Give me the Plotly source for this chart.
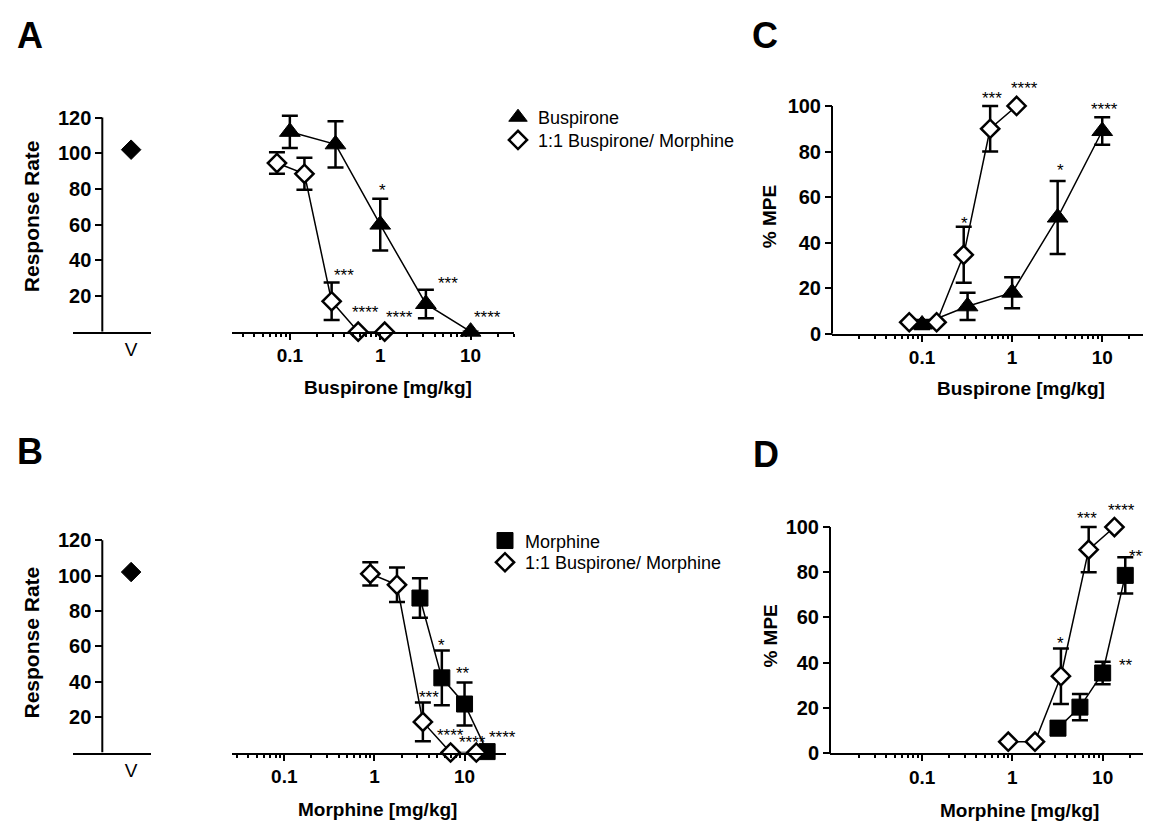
import math
import plotly.graph_objects as go

W, H = 1151, 830
FONT = "Liberation Sans"

# ---------------- data ----------------
vehicle_label = ["V"]
rate_vehicle_A = [102]
rate_vehicle_B = [102]

bus_dose = [0.1, 0.32, 1.0, 3.2, 10.0]
combo_bus_dose = [0.072, 0.145, 0.29, 0.57, 1.12]
mor_dose = [3.2, 5.6, 10.0, 17.8]
combo_mor_dose = [0.9, 1.78, 3.45, 7.0, 13.5]

rate_bus = [112, 105, 60, 15.5, 0]
rate_bus_err = [9, 13, 14.5, 8, 0]
rate_combo_A = [94.5, 88.5, 17, 0, 0]
rate_combo_A_err = [6, 9, 10.5, 0, 0]

rate_mor = [87.3, 42.2, 27.4, 0.5]
rate_mor_err = [11.2, 15.5, 12.1, 0]
rate_combo_B = [101, 94.8, 17.3, 0, 0]
rate_combo_B_err = [6.6, 9.8, 11, 0, 0]

mpe_bus = [4, 12, 18, 51, 89]
mpe_bus_err = [2, 6, 6.8, 16, 6]
mpe_combo_C = [5, 5, 34.6, 90, 100]
mpe_combo_C_err = [0, 0, 12.3, 10, 0]

mpe_mor = [11, 20.3, 35.4, 78.6]
mpe_mor_err = [3, 5.8, 5, 8]
mpe_combo_D = [5, 5, 34, 90, 100]
mpe_combo_D_err = [0, 0, 12.3, 10, 0]

# significance marks: (text, dose, y)
stars_A = [("***", 0.398, 33.7), ("****", 0.68, 12.7), ("****", 1.64, 10),
           ("*", 1.05, 81.3), ("***", 5.6, 29.3), ("****", 15.5, 10)]
stars_B = [("*", 5.5, 62.9), ("**", 9.6, 47.1), ("***", 4.08, 33.2),
           ("****", 7.0, 11.8), ("****", 12.1, 7.7), ("****", 26.2, 10.9)]
stars_C = [("*", 0.294, 50.3), ("***", 0.59, 105.2), ("****", 1.37, 109.4),
           ("*", 3.44, 73.4), ("****", 10.7, 100.4)]
stars_D = [("*", 3.37, 50.2), ("***", 6.76, 105.7), ("****", 16, 109.2),
           ("***", 25, 88.8), ("**", 18.3, 40.3)]

rate_ticks = [20, 40, 60, 80, 100, 120]
mpe_ticks = [0, 20, 40, 60, 80, 100]
dose_ticks = [0.1, 1, 10]
dose_ticktext = ["0.1", "1", "10"]

# ---------------- helpers ----------------
def fx(px):
    return px / W


def fy(py):
    return 1 - py / H


fig = go.Figure()

TRI = dict(symbol="triangle-up", size=18, color="black", line=dict(color="black", width=1))
SQR = dict(symbol="square", size=16, color="black", line=dict(color="black", width=1))
DIA = dict(symbol="diamond", size=14, color="white", line=dict(color="black", width=2.5))
VDIA = dict(symbol="diamond", size=15, color="black", line=dict(color="black", width=1))


def err(arr):
    return dict(type="data", array=arr, visible=True, color="black", thickness=2.5, width=8)


def series(x, y, e, marker, xa, ya):
    fig.add_trace(go.Scatter(x=x, y=y, mode="lines+markers", marker=marker,
                             line=dict(color="black", width=1.5), error_y=err(e),
                             xaxis=xa, yaxis=ya, showlegend=False, cliponaxis=False))


# Panel A
fig.add_trace(go.Scatter(x=vehicle_label, y=rate_vehicle_A, mode="markers", marker=VDIA,
                         xaxis="x", yaxis="y", showlegend=False, cliponaxis=False))
series(bus_dose, rate_bus, rate_bus_err, TRI, "x2", "y")
series(combo_bus_dose, rate_combo_A, rate_combo_A_err, DIA, "x2", "y")
# Panel B
fig.add_trace(go.Scatter(x=vehicle_label, y=rate_vehicle_B, mode="markers", marker=VDIA,
                         xaxis="x3", yaxis="y2", showlegend=False, cliponaxis=False))
series(mor_dose, rate_mor, rate_mor_err, SQR, "x4", "y2")
series(combo_mor_dose, rate_combo_B, rate_combo_B_err, DIA, "x4", "y2")
# Panel C
series(bus_dose, mpe_bus, mpe_bus_err, TRI, "x5", "y3")
series(combo_bus_dose, mpe_combo_C, mpe_combo_C_err, DIA, "x5", "y3")
# Panel D
series(mor_dose, mpe_mor, mpe_mor_err, SQR, "x6", "y4")
series(combo_mor_dose, mpe_combo_D, mpe_combo_D_err, DIA, "x6", "y4")

# legend entries (marker only), one legend box per entry
legend_entries = [("Buspirone", TRI, "legend"), ("1:1 Buspirone/ Morphine", DIA, "legend2"),
                  ("Morphine", SQR, "legend3"), ("1:1 Buspirone/ Morphine", DIA, "legend4")]
for name, mk, lg in legend_entries:
    fig.add_trace(go.Scatter(x=[None], y=[None], mode="markers", marker=mk, name=name,
                             xaxis="x2", yaxis="y", legend=lg, showlegend=True))

# ---------------- axes ----------------
tickfont_y = dict(family=FONT, size=20, color="black", weight="bold")
tickfont_x = dict(family=FONT, size=19, color="black", weight="bold")

minor_vals = [m * 10 ** e for e in range(-3, 2) for m in range(2, 10)]


def log_axis(dom, rng, anchor):
    return dict(domain=[fx(dom[0]), fx(dom[1])], type="log", range=rng, anchor=anchor,
                tickmode="array", tickvals=dose_ticks, ticktext=dose_ticktext,
                ticks="outside", ticklen=6, tickwidth=2, tickcolor="black",
                showline=True, linewidth=2, linecolor="black", showgrid=False, zeroline=False,
                tickfont=tickfont_x,
                minor=dict(tickmode="array", tickvals=minor_vals, ticks="outside",
                           ticklen=3, tickwidth=1.5, tickcolor="black", showgrid=False))


def v_axis(anchor):
    return dict(domain=[fx(65), fx(143)], type="category", range=[-1.49, 0.51], anchor=anchor,
                showline=True, linewidth=2, linecolor="black", ticks="", showgrid=False,
                zeroline=False, tickfont=dict(family=FONT, size=19, color="black"))


def y_axis(bottom, per_unit, top_val, pos, tvals):
    top_px = bottom - top_val * per_unit
    return dict(domain=[fy(bottom), fy(top_px)], range=[0, top_val], anchor="free",
                position=fx(pos), tickmode="array", tickvals=tvals,
                ticks="outside", ticklen=7, tickwidth=2, tickcolor="black",
                showline=False, showgrid=False, zeroline=False, tickfont=tickfont_y)


fig.update_layout(
    xaxis=v_axis("y"),
    xaxis2=log_axis((224, 506), [-1.64, 1.48], "y"),
    xaxis3=v_axis("y2"),
    xaxis4=log_axis((224, 498), [-1.58, 1.46], "y2"),
    xaxis5=log_axis((824, 1137), [-2.0, 1.475], "y3"),
    xaxis6=log_axis((822, 1138), [-2.02, 1.48], "y4"),
    yaxis=y_axis(328, 1.808, 135, 94.3, rate_ticks),
    yaxis2=y_axis(754.5, 1.793, 135, 94.3, rate_ticks),
    yaxis3=y_axis(330, 2.307, 118, 824, mpe_ticks),
    yaxis4=y_axis(755, 2.29, 118, 822, mpe_ticks),
)

# y-axis lines up to the last labelled tick
shapes = []
for pos, yref, top in [(94.3, "y", 120), (94.3, "y2", 120), (824, "y3", 100), (822, "y4", 100)]:
    shapes.append(dict(type="line", xref="paper", x0=fx(pos), x1=fx(pos), yref=yref,
                       y0=0, y1=top, line=dict(color="black", width=2)))

# ---------------- annotations ----------------
ann = []
for stars, xr, yr in [(stars_A, "x2", "y"), (stars_B, "x4", "y2"),
                      (stars_C, "x5", "y3"), (stars_D, "x6", "y4")]:
    for t, xd, yd in stars:
        ann.append(dict(text=t, x=math.log10(xd), y=yd, xref=xr, yref=yr, showarrow=False,
                        xanchor="center", yanchor="middle",
                        yshift=-4, font=dict(family=FONT, size=17, color="black")))

bold = dict(family=FONT, color="black", weight="bold")


def paper_text(txt, px, py, size, angle=0, b=True):
    f = dict(size=size, **bold) if b else dict(family=FONT, color="black", size=size)
    ann.append(dict(text=txt, x=fx(px), y=fy(py), xref="paper", yref="paper",
                    xanchor="center", yanchor="middle", textangle=angle,
                    showarrow=False, font=f))


for letter, px, py in [("A", 22, 28), ("B", 22, 449), ("C", 757, 28), ("D", 758, 452)]:
    paper_text(letter, px, py, 36)

for txt, px, py in [("Buspirone [mg/kg]", 380, 385), ("Morphine [mg/kg]", 369, 812),
                    ("Buspirone [mg/kg]", 1013, 386), ("Morphine [mg/kg]", 1011, 813)]:
    paper_text(txt, px, py, 19)

for txt, px, py, sz in [("Response Rate", 23, 211, 21), ("Response Rate", 23, 643, 21),
                        ("% MPE", 761, 212, 19), ("% MPE", 763, 637, 19)]:
    paper_text(txt, px, py, sz, angle=-90)

legfont = dict(family=FONT, size=18, color="black")


def leg(px, py):
    return dict(x=fx(px), y=fy(py), xanchor="left", yanchor="middle", font=legfont,
                bgcolor="rgba(0,0,0,0)", borderwidth=0, itemclick=False)


fig.update_layout(
    width=W, height=H, autosize=False, margin=dict(l=0, r=0, t=0, b=0),
    plot_bgcolor="white", paper_bgcolor="white",
    shapes=shapes, annotations=ann,
    legend=leg(490, 111), legend2=leg(490, 134),
    legend3=leg(477, 540), legend4=leg(477, 562),
)

fig.write_html("out.html")
